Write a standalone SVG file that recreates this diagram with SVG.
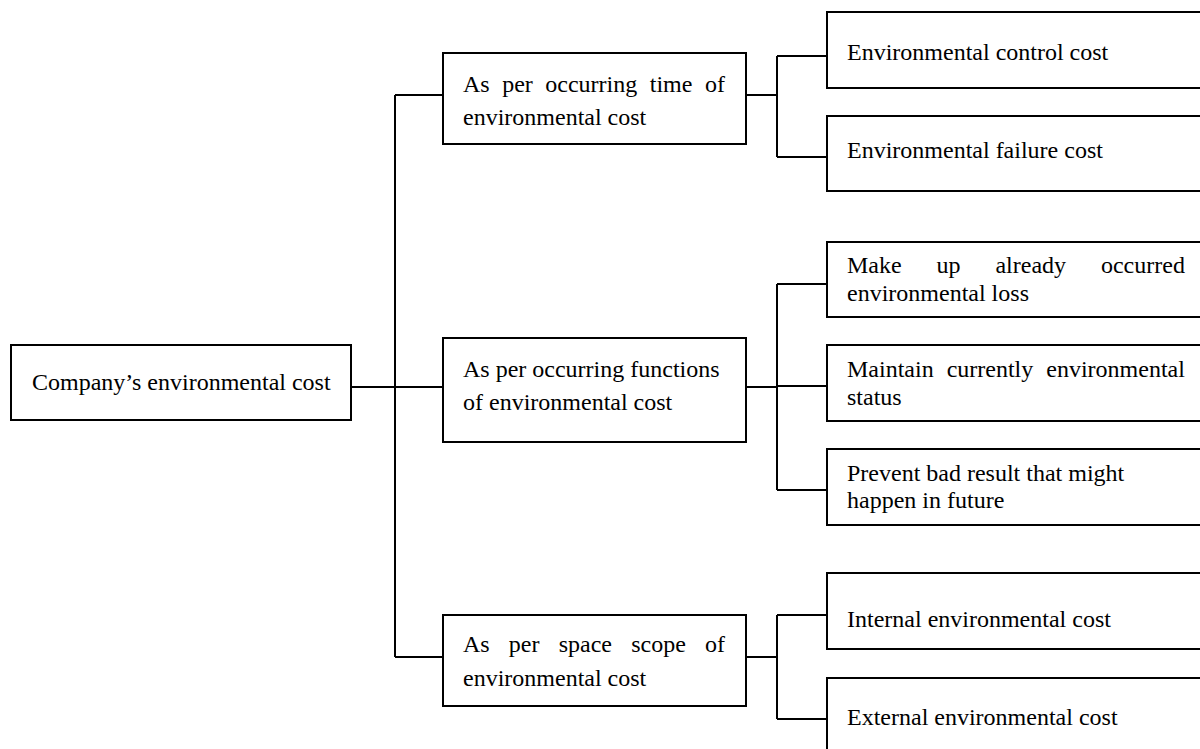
<svg xmlns="http://www.w3.org/2000/svg" width="1200" height="749" viewBox="0 0 1200 749">
<style>
rect{fill:#fff;stroke:#000;stroke-width:2}
.c{fill:none;stroke:#000;stroke-width:2}
text{font-family:"Liberation Serif","Times New Roman",serif;font-size:24px;fill:#000}
</style>
<rect x="0" y="0" width="1200" height="749" style="stroke:none"/>
<g id="connectors">
<path class="c" d="M351 387H443M395 95V657M395 95H443M395 657H443"/>
<path class="c" d="M746 95H777M777 56V157M777 56H827M777 157H827"/>
<path class="c" d="M746 387H777M777 284V490M777 284H827M777 386H827M777 490H827"/>
<path class="c" d="M746 657H777M777 615V719M777 615H827M777 719H827"/>
</g>
<g id="root">
<rect x="11" y="345" width="340" height="75"/>
<text x="32" y="390">Company’s environmental cost</text>
</g>
<g id="time">
<rect x="443" y="53" width="303" height="91"/>
<text x="463" y="92" word-spacing="6.5">As per occurring time of</text>
<text x="463" y="125">environmental cost</text>
</g>
<g id="functions">
<rect x="443" y="338" width="303" height="104"/>
<text x="463" y="377">As per occurring functions</text>
<text x="463" y="410">of environmental cost</text>
</g>
<g id="space">
<rect x="443" y="615" width="303" height="91"/>
<text x="463" y="652" word-spacing="13.2">As per space scope of</text>
<text x="463" y="686">environmental cost</text>
</g>
<g id="control">
<rect x="827" y="12" width="385" height="76"/>
<text x="847" y="60">Environmental control cost</text>
</g>
<g id="failure">
<rect x="827" y="116" width="385" height="75"/>
<text x="847" y="158">Environmental failure cost</text>
</g>
<g id="makeup">
<rect x="827" y="242" width="385" height="75"/>
<text x="847" y="273" word-spacing="28.9">Make up already occurred</text>
<text x="847" y="301">environmental loss</text>
</g>
<g id="maintain">
<rect x="827" y="345" width="385" height="76"/>
<text x="847" y="377" word-spacing="7">Maintain currently environmental</text>
<text x="847" y="405">status</text>
</g>
<g id="prevent">
<rect x="827" y="449" width="385" height="76"/>
<text x="847" y="481">Prevent bad result that might</text>
<text x="847" y="508">happen in future</text>
</g>
<g id="internal">
<rect x="827" y="573" width="385" height="76"/>
<text x="847" y="627">Internal environmental cost</text>
</g>
<g id="external">
<rect x="827" y="678" width="385" height="90"/>
<text x="847" y="725">External environmental cost</text>
</g>
</svg>
